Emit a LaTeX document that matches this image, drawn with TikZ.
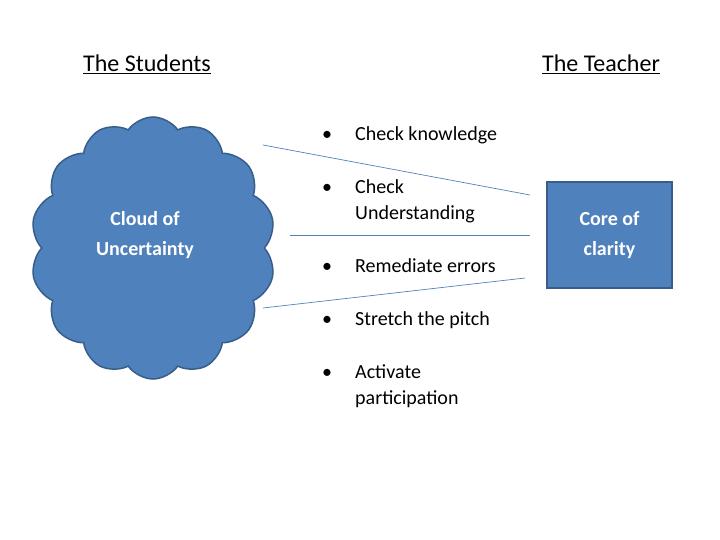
\documentclass[tikz,border=0pt]{standalone}
\usepackage{fontspec}
\setmainfont{Carlito}
\usetikzlibrary{shapes.symbols}
\definecolor{fillb}{HTML}{4F81BD}
\definecolor{edgeb}{HTML}{385D8A}
\tikzset{
  title/.style={font=\fontsize{24}{28}\selectfont, anchor=base},
  bullet/.style={font=\fontsize{20}{26}\selectfont, anchor=north west, inner sep=0pt, align=left},
  link/.style={draw=fillb, line width=0.7pt},
}
\newcommand{\bitem}[1]{\begin{tabular}{@{}p{33pt}@{}l@{}}\textbullet & #1\end{tabular}}
\begin{document}
\begin{tikzpicture}[x=1pt,y=-1pt]
\useasboundingbox (0,0) rectangle (720,540);
\node[title] (ts) at (147,72) {\underline{The Students}};
\node[title] (tt) at (601,72) {\underline{The Teacher}};
\node[cloud, cloud puffs=14, cloud puff arc=110, aspect=0.9, draw=edgeb, line width=1.5pt, fill=fillb,
  minimum width=245, minimum height=262, inner sep=0pt,
  font=\fontsize{20}{30}\selectfont\bfseries, text=white, align=center] (cloud) at (153,248) {};
\node[font=\fontsize{20}{30}\selectfont\bfseries, text=white, align=center] (ct) at (145,235) {Cloud of\\Uncertainty};
\node[bullet] (b1) at (322,122) {\bitem{Check knowledge}};
\node[bullet] (b2) at (322,175) {\begin{tabular}{@{}p{33pt}@{}l@{}}\textbullet & Check\\ & Understanding\end{tabular}};
\node[bullet] (b3) at (322,254) {\bitem{Remediate errors}};
\node[bullet] (b4) at (322,307) {\bitem{Stretch the pitch}};
\node[bullet] (b5) at (322,360) {\begin{tabular}{@{}p{33pt}@{}l@{}}\textbullet & Activate\\ & participation\end{tabular}};
\node[draw=edgeb, line width=1.5pt, fill=fillb, minimum width=125, minimum height=106, inner sep=0pt,
  font=\fontsize{20}{30}\selectfont\bfseries, text=white, align=center] (core) at (609.5,235) {Core of\\clarity};
\coordinate (a1) at (263,145); \coordinate (a2) at (530,195);
\coordinate (c1) at (290,235); \coordinate (c2) at (530,235);
\coordinate (d1) at (263,308); \coordinate (d2) at (525,278);
\draw[link] (a1) -- (a2);
\draw[link] (c1) -- (c2);
\draw[link] (d1) -- (d2);
\end{tikzpicture}
\end{document}
